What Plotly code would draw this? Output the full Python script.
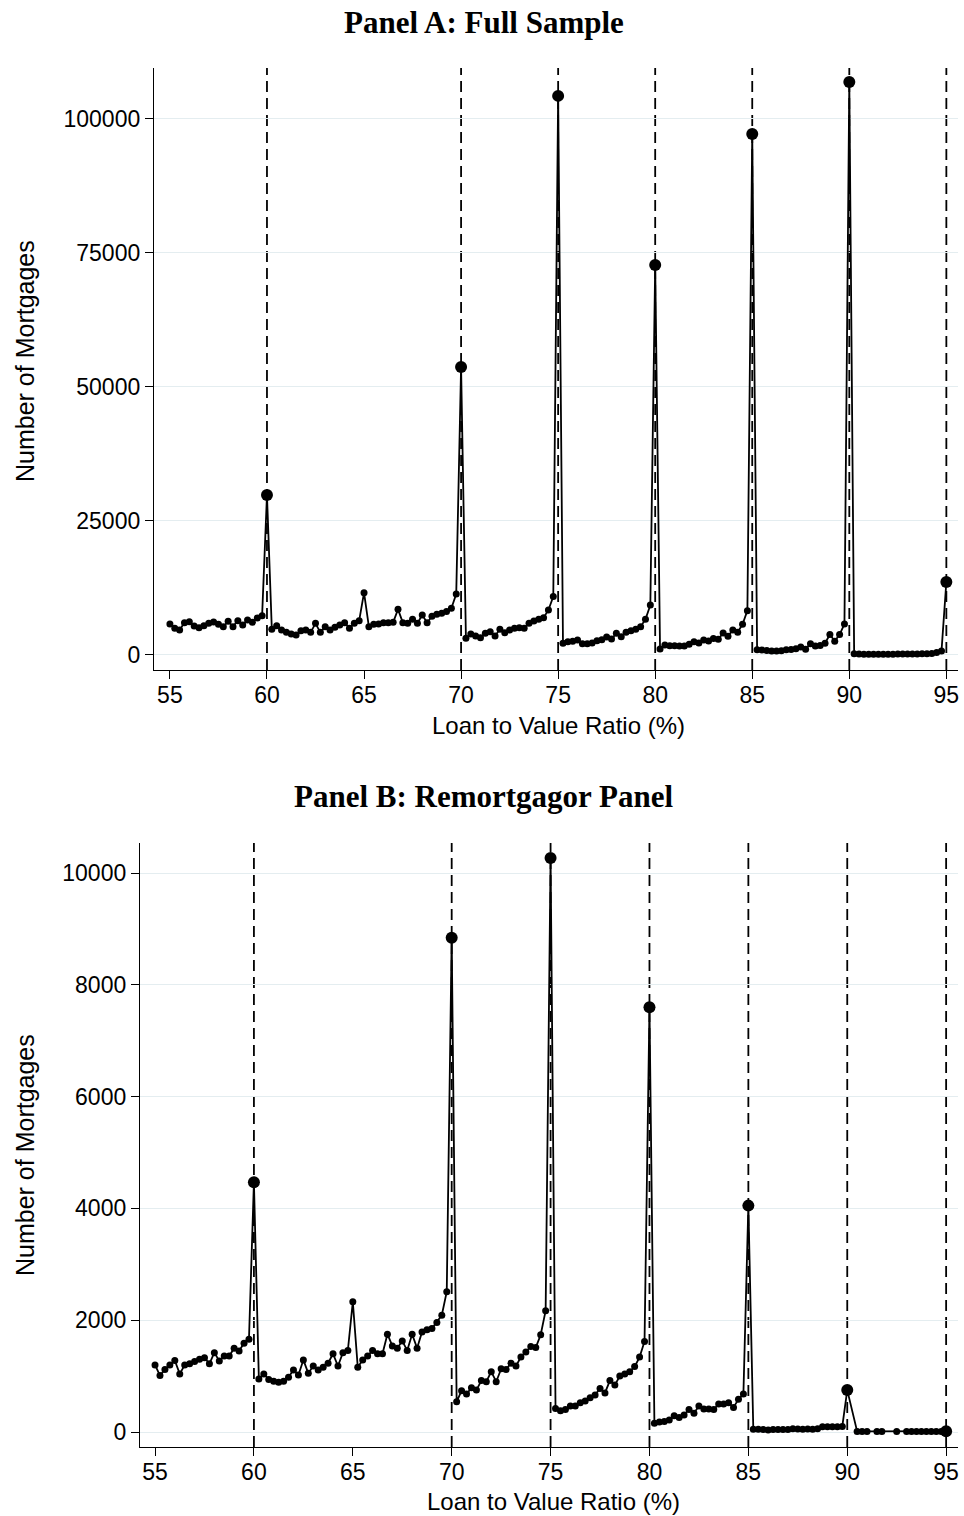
import numpy as np
import plotly.graph_objects as go

# LTV grid (0.25 pp steps)
ltv = [round(55 + 0.25 * i, 2) for i in range(161)]
dash_lines = [60, 70, 75, 80, 85, 90, 95]

panel_a = [
    5780, 4980, 4670, 6030, 6220, 5410, 5100, 5470, 5910, 6160, 5720, 5290, 6280, 5290, 6410, 5600, 6530, 6100, 6900, 7340,
    29850,
    4790, 5470, 4670, 4230, 3920, 3730, 4540, 4670, 4230, 5910, 4230, 5290, 4670, 5160, 5600, 6030, 4980, 5910, 6410,
    11630,
    5290, 5720, 5780, 6030, 6030, 6100, 8520, 6030, 5910, 6650, 5910, 7460, 6030, 7220, 7590, 7780, 8090, 8710, 11380,
    53730,
    3110, 3920, 3550, 3230, 4040, 4350, 3550, 4790, 4170, 4670, 4980, 5100, 4980, 5910, 6340, 6650, 6970, 8400, 10890,
    104300,
    2180, 2490, 2550, 2800, 2100, 2100, 2240, 2640, 2860, 3360, 2980, 4040, 3420, 4260, 4510, 4790, 5290, 6650, 9330,
    72760,
    1120, 1870, 1740, 1710, 1680, 1680, 1990, 2490, 2240, 2800, 2610, 3080, 2920, 4100, 3480, 4670, 4260, 5720, 8270,
    97200,
    1000, 940, 840, 750, 750, 780, 1000, 1030, 1180, 1500, 1090, 2110, 1680, 1770, 2180, 3820, 2580, 3820, 5790,
    106900,
    250, 180, 160, 150, 150, 150, 150, 160, 160, 170, 170, 180, 190, 200, 210, 230, 260, 450, 750,
    13620,
]

panel_b = [
    1200, 1010, 1120, 1200, 1280, 1040, 1200, 1220, 1260, 1300, 1330, 1220, 1420, 1270, 1360, 1360, 1500, 1450, 1590, 1660,
    4470,
    950, 1040, 940, 910, 890, 910, 980, 1110, 1020, 1290, 1050, 1180, 1110, 1160, 1230, 1400, 1180, 1420, 1460,
    2330,
    1160, 1290, 1360, 1460, 1400, 1400, 1750, 1540, 1500, 1630, 1460, 1750, 1500, 1790, 1830, 1850, 1960, 2090, 2510,
    8840,
    540, 740, 680, 790, 750, 920, 900, 1080, 900, 1130, 1120, 1230, 1180, 1340, 1430, 1530, 1510, 1740, 2170,
    10270,
    420, 380, 405, 465, 465, 525, 555, 615, 660, 780, 700, 920, 840, 1000, 1040, 1080, 1170, 1340, 1620,
    7600,
    155, 180, 190, 215, 290, 260, 305, 405, 335, 465, 410, 410, 405, 500, 500, 525, 440, 585, 680,
    4050,
    50, 50, 45, 35, 45, 45, 45, 45, 60, 55, 50, 55, 50, 60, 95, 95, 95, 95, 100,
    750,
    None, 10, 10, 10, None, 10, 10, None, None, 10, None, 10, 10, 10, 10, 10, 10, 10, 10,
    15,
]

yticks_a = [0, 25000, 50000, 75000, 100000]
yticks_b = [0, 2000, 4000, 6000, 8000, 10000]
xticks = [55, 60, 65, 70, 75, 80, 85, 90, 95]

W, H = 964, 1516
FONT = "Liberation Sans, Arial, sans-serif"
TFONT = "Liberation Serif, Times New Roman, serif"


def sizes(xs, ys):
    return [12 if (x in dash_lines and y is not None) else 7 for x, y in zip(xs, ys)]


fig = go.Figure()
for ys, xa, ya in ((panel_a, "x", "y"), (panel_b, "x2", "y2")):
    fig.add_trace(go.Scatter(x=ltv, y=ys, mode="lines+markers", xaxis=xa, yaxis=ya,
                             line=dict(color="black", width=1.8),
                             marker=dict(color="black", size=sizes(ltv, ys), opacity=1,
                                         line=dict(color="black", width=0)),
                             opacity=1, connectgaps=True, showlegend=False))

for xv in dash_lines:
    for xr, yr in (("x", "y domain"), ("x2", "y2 domain")):
        fig.add_shape(type="line", x0=xv, x1=xv, y0=0, y1=1, xref=xr, yref=yr,
                      line=dict(color="black", width=1.8, dash="11px,6px"), layer="below")


def px_x(p):
    return p / W


def px_y(p):
    return 1 - p / H


axis_common = dict(showline=True, linecolor="black", linewidth=1.3, ticks="outside",
                   ticklen=8, tickwidth=1.3, tickcolor="black",
                   tickfont=dict(family=FONT, size=23, color="black"), zeroline=False)

fig.update_layout(
    width=W, height=H, margin=dict(l=0, r=0, t=0, b=0),
    plot_bgcolor="white", paper_bgcolor="white",
    xaxis=dict(domain=[px_x(154), px_x(958)], range=[54.18, 95.6], anchor="y",
               tickvals=xticks, ticktext=[str(v) for v in xticks], showgrid=False,
               ticklabelstandoff=-4, **axis_common),
    yaxis=dict(domain=[px_y(670), px_y(68)], range=[-2800, 109500], anchor="x",
               tickvals=yticks_a, ticktext=[str(v) for v in yticks_a],
               showgrid=True, gridcolor="#e4edf0", gridwidth=1.3, **axis_common),
    xaxis2=dict(domain=[px_x(140), px_x(958)], range=[54.24, 95.6], anchor="y2",
                tickvals=xticks, ticktext=[str(v) for v in xticks], showgrid=False,
                ticklabelstandoff=-4, **axis_common),
    yaxis2=dict(domain=[px_y(1447), px_y(843)], range=[-268, 10537], anchor="x2",
                tickvals=yticks_b, ticktext=[str(v) for v in yticks_b],
                showgrid=True, gridcolor="#e4edf0", gridwidth=1.3, **axis_common),
)

ann = [
    dict(text="<b>Panel A: Full Sample</b>", x=px_x(484), y=px_y(22), size=31, fam=TFONT, rot=0),
    dict(text="<b>Panel B: Remortgagor Panel</b>", x=px_x(483), y=px_y(797), size=31, fam=TFONT, rot=0),
    dict(text="Loan to Value Ratio (%)", x=px_x(558), y=px_y(725), size=24, fam=FONT, rot=0),
    dict(text="Loan to Value Ratio (%)", x=px_x(553), y=px_y(1501), size=24, fam=FONT, rot=0),
    dict(text="Number of Mortgages", x=px_x(25), y=px_y(361), size=25, fam=FONT, rot=-90),
    dict(text="Number of Mortgages", x=px_x(25), y=px_y(1155), size=25, fam=FONT, rot=-90),
]
for a in ann:
    fig.add_annotation(text=a["text"], x=a["x"], y=a["y"], xref="paper", yref="paper",
                       showarrow=False, xanchor="center", yanchor="middle", textangle=a["rot"],
                       font=dict(family=a["fam"], size=a["size"], color="black"))

fig.write_html("out.html")
